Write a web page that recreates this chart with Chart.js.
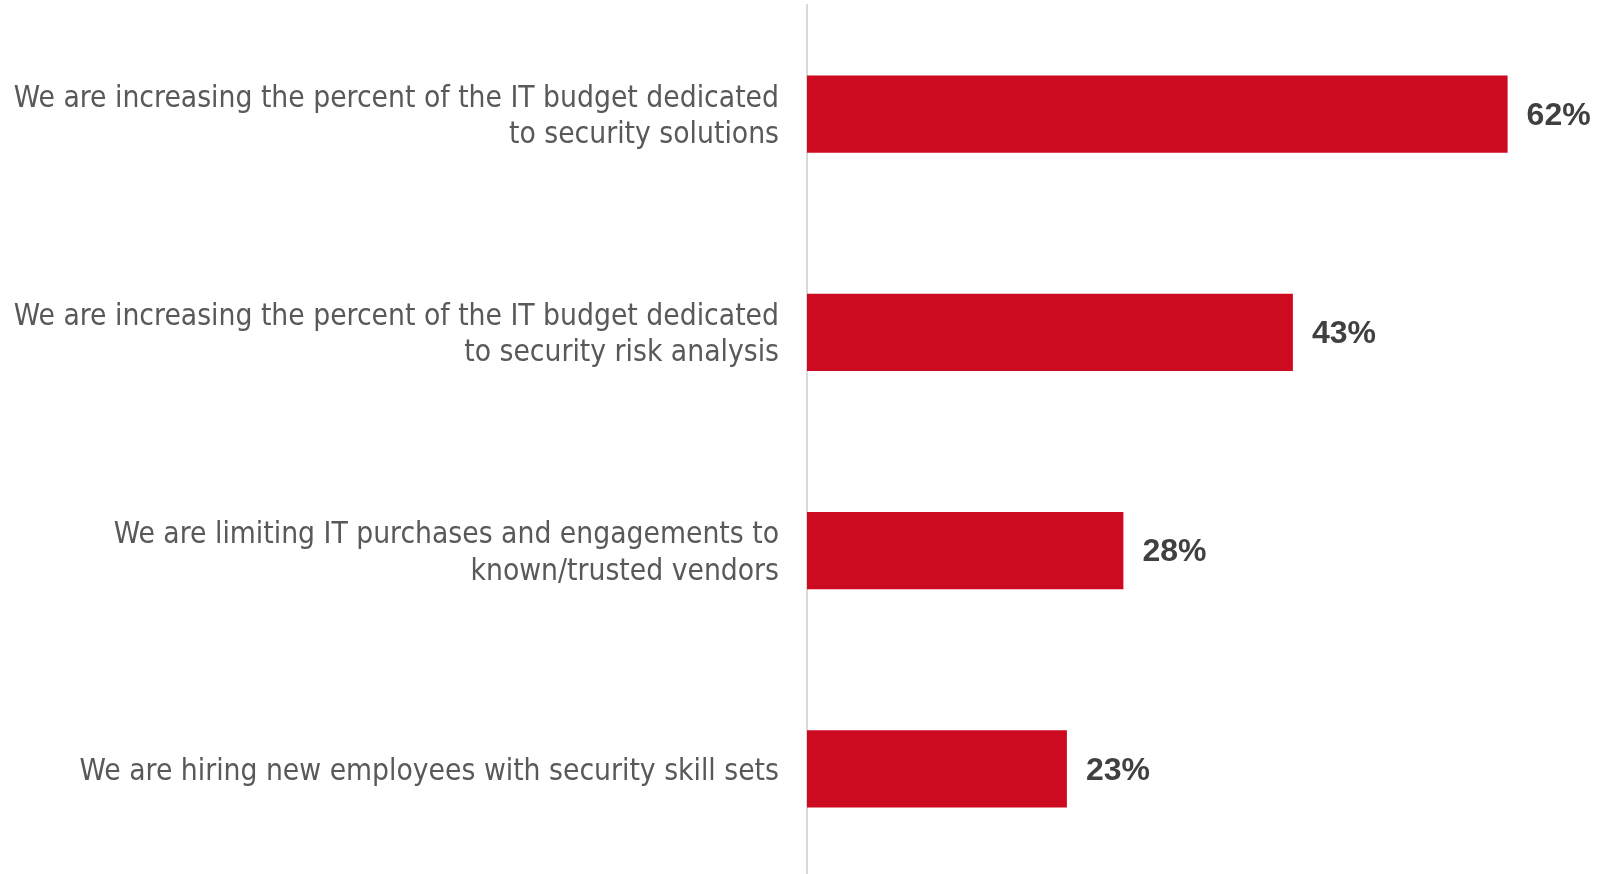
<!DOCTYPE html>
<html>
<head>
<meta charset="utf-8">
<script src="https://cdn.jsdelivr.net/npm/chart.js@4/dist/chart.umd.min.js"></script>
<style>
  html, body { margin: 0; padding: 0; background: #fff; overflow: hidden; }
  #wrap { width: 1598px; height: 878px; }
</style>
</head>
<body>
<div id="wrap"><canvas id="chart"></canvas></div>
<script>
// DATA
const categories = [
  ["We are increasing the percent of the IT budget dedicated", "to security solutions"],
  ["We are increasing the percent of the IT budget dedicated", "to security risk analysis"],
  ["We are limiting IT purchases and engagements to", "known/trusted vendors"],
  ["We are hiring new employees with security skill sets"]
];
const values = [62, 43, 28, 23];
const valueLabels = ["62%", "43%", "28%", "23%"];

// LABELS: category text left of axis, values at bar ends
const labelPlugin = {
  id: "labels",
  afterDatasetsDraw(chart) {
    const c = chart.ctx;
    const yScale = chart.scales.y;
    const meta = chart.getDatasetMeta(0);
    c.save();
    c.textBaseline = "middle";

    // category labels
    c.font = "29.7px 'Liberation Sans Narrow', 'DejaVu Sans Condensed', sans-serif";
    c.fillStyle = "#595959";
    c.textAlign = "right";
    const lineH = 36.5;
    categories.forEach((lines, i) => {
      const cy = yScale.getPixelForTick(i) + 3;
      const startY = cy - (lines.length - 1) * lineH / 2;
      lines.forEach((line, j) => {
        c.fillText(line, yScale.right - 28, startY + j * lineH);
      });
    });

    // value labels
    c.font = "bold 32px 'Liberation Sans', Arial, sans-serif";
    c.fillStyle = "#404040";
    c.textAlign = "left";
    meta.data.forEach((bar, i) => {
      c.fillText(valueLabels[i], bar.x + 19, bar.y + 2);
    });
    c.restore();
  }
};

new Chart(document.getElementById("chart"), {
  type: "bar",
  data: {
    labels: categories,
    datasets: [{
      data: values,
      backgroundColor: "#cc0a20",
      borderWidth: 0,
      barPercentage: 1,
      categoryPercentage: 0.355
    }]
  },
  options: {
    indexAxis: "y",
    responsive: true,
    maintainAspectRatio: false,
    animation: false,
    layout: { padding: { top: 5, right: 0, bottom: 0, left: 0 } },
    plugins: {
      legend: { display: false },
      tooltip: { enabled: false }
    },
    scales: {
      x: {
        display: false,
        min: 0,
        max: 70
      },
      y: {
        afterFit: (scale) => {
          scale.width = 807;
          scale.paddingTop = 0;
          scale.paddingBottom = 0;
        },
        grid: { display: false, drawTicks: false },
        border: { display: true, color: "#d9d9d9", width: 2 },
        ticks: { display: false }
      }
    }
  },
  plugins: [labelPlugin]
});
</script>
</body>
</html>
